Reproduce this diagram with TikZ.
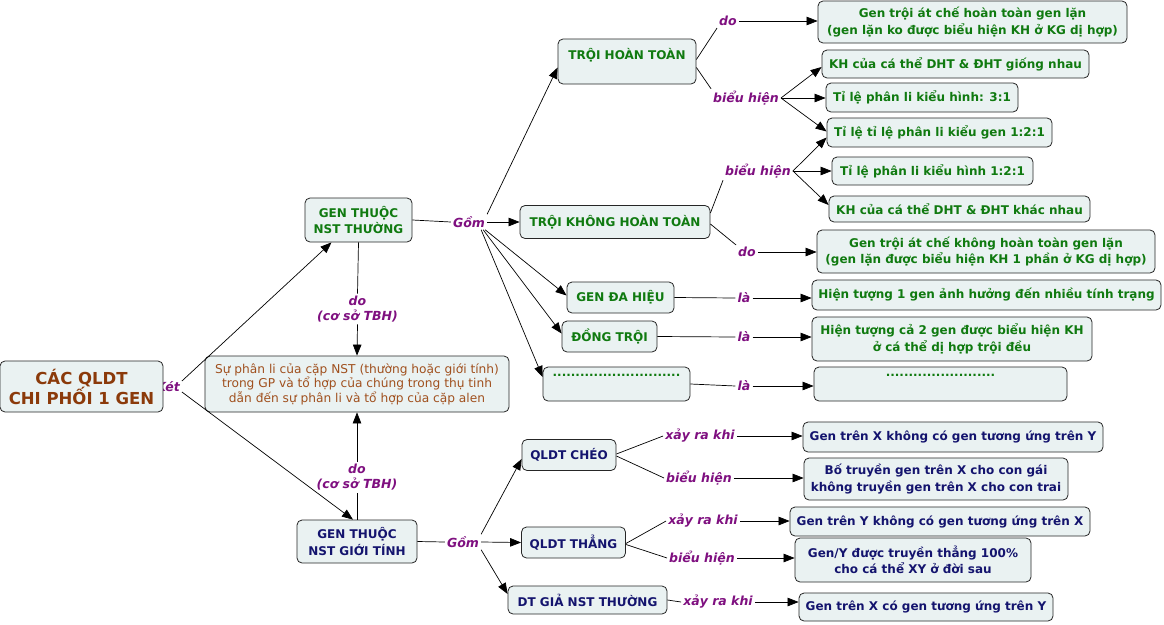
\documentclass[tikz,border=0pt]{standalone}
\usepackage{fontspec}
\setmainfont{DejaVu Sans}
\usetikzlibrary{arrows.meta}
\definecolor{boxfill}{HTML}{EAF2F2}
\definecolor{grn}{HTML}{107A10}
\definecolor{nvy}{HTML}{14146E}
\definecolor{brn}{HTML}{8B3A0A}
\definecolor{brn2}{HTML}{A0501E}
\definecolor{prp}{HTML}{7F1080}
\begin{document}
\begin{tikzpicture}[x=1pt,y=-1pt,
 box/.style={draw=black!85, line width=0.8pt, rounded corners=5pt, fill=boxfill, align=center, inner sep=2pt, font=\bfseries\fontsize{12}{16.5}\selectfont},
 gbox/.style={box, text=grn},
 nbox/.style={box, text=nvy},
 lbl/.style={text=prp, font=\bfseries\itshape\fontsize{12.5}{15}\selectfont, inner sep=2pt, align=center},
 arr/.style={-{Triangle[length=11pt,width=8.5pt]}, line width=0.7pt},
 ln/.style={line width=0.7pt}]
\useasboundingbox (0,0) rectangle (1164,624);
\fill[white] (0,0) rectangle (1164,624);

% left part
\node[lbl] (ket) at (168,387) {Két};
\node[box, text=brn, font=\bfseries\fontsize{16.5}{20}\selectfont, minimum width=163pt, minimum height=51pt] (root) at (81.5,386.5) {CÁC QLDT\\CHI PHỐI 1 GEN};
\node[gbox, minimum width=107pt, minimum height=44pt] (gt) at (358.5,220) {GEN THUỘC\\NST THƯỜNG};
\node[box, font=\fontsize{12.2}{14.5}\selectfont, text=brn2, minimum width=304pt, minimum height=56pt] (mid) at (357,384) {Sự phân li của cặp NST (thường hoặc giới tính)\\trong GP và tổ hợp của chúng trong thụ tinh\\dẫn đến sự phân li và tổ hợp của cặp alen};
\node[nbox, minimum width=120pt, minimum height=43pt] (gs) at (357,541.5) {GEN THUỘC\\NST GIỚI TÍNH};
\node[lbl] (do1) at (357.5,309) {do\\(cơ sở TBH)};
\node[lbl] (do2) at (357,477.5) {do\\(cơ sở TBH)};

\draw[arr] ([yshift=6pt]ket.east) -- ([xshift=-27pt]gt.south);
\draw[arr] ([yshift=-5pt]ket.east) -- ([xshift=-4pt]gs.north);
\draw[ln] (gt.south) -- (do1.north);
\draw[arr] (do1.south) -- (mid.north);
\draw[ln] (gs.north) -- (do2.south);
\draw[arr] (do2.north) -- (mid.south);

% autosomal branch
\node[lbl] (gom1) at (469,222) {Gồm};
\node[gbox, minimum width=138pt, minimum height=45pt, text height=9pt, text depth=13pt] (tht) at (627,61.5) {TRỘI HOÀN TOÀN};
\node[gbox, minimum width=190pt, minimum height=33pt] (tkht) at (615,222) {TRỘI KHÔNG HOÀN TOÀN};
\node[gbox, minimum width=107pt, minimum height=31pt] (gdh) at (620.5,297.5) {GEN ĐA HIỆU};
\node[gbox, minimum width=95pt, minimum height=31pt] (dt) at (609.5,336.5) {ĐỒNG TRỘI};
\node[gbox, minimum width=147pt, minimum height=34pt, text height=4pt, text depth=20pt] (dotb) at (616.5,384) {............................};

\draw[ln] (gt.east) -- (gom1.west);
\draw[arr] (gom1.north east) -- ([yshift=-6pt]tht.west);
\draw[arr] (gom1.east) -- (tkht.west);
\draw[arr] ([xshift=-2pt]gom1.south east) -- ([yshift=2pt]gdh.west);
\draw[arr] ([xshift=-4pt]gom1.south east) -- ([yshift=3pt]dt.west);
\draw[arr] ([xshift=-6pt]gom1.south east) -- ([yshift=7pt]dotb.west);

% TRỘI HOÀN TOÀN
\node[lbl] (doa) at (728,21) {do};
\node[lbl] (bha) at (746,98) {biểu hiện};
\node[gbox, minimum width=309pt, minimum height=42pt] (g1) at (972.5,22) {Gen trội át chế hoàn toàn gen lặn\\(gen lặn ko được biểu hiện KH ở KG dị hợp)};
\node[gbox, minimum width=267pt, minimum height=28pt] (k1) at (955.5,64) {KH của cá thể DHT \& ĐHT giống nhau};
\node[gbox, minimum width=192pt, minimum height=29pt] (t31) at (922,97.5) {Tỉ lệ phân li kiểu hình: 3:1};
\node[gbox, minimum width=225pt, minimum height=29pt] (k121) at (939.5,132.5) {Tỉ lệ tỉ lệ phân li kiểu gen 1:2:1};
\draw[ln] ([yshift=2pt]tht.east) -- (doa.south west);
\draw[ln] ([yshift=-6pt]tht.east) -- (bha.north west);
\draw[arr] (doa.east) -- (doa.east -| g1.west);
\draw[arr] (bha.east) -- ([yshift=-3pt]k1.west);
\draw[arr] (bha.east) -- (bha.east -| t31.west);
\draw[arr] (bha.east) -- ([yshift=1pt]k121.west);

% TRỘI KHÔNG HOÀN TOÀN
\node[lbl] (bhb) at (758,171) {biểu hiện};
\node[lbl] (dob) at (747,252) {do};
\node[gbox, minimum width=201pt, minimum height=28pt] (h121) at (932.5,171) {Tỉ lệ phân li kiểu hình 1:2:1};
\node[gbox, minimum width=261pt, minimum height=26pt] (kkn) at (959.5,209) {KH của cá thể DHT \& ĐHT khác nhau};
\node[gbox, minimum width=338pt, minimum height=43pt] (g2) at (986,251.5) {Gen trội át chế không hoàn toàn gen lặn\\(gen lặn được biểu hiện KH 1 phần ở KG dị hợp)};
\draw[ln] ([yshift=9pt]tkht.east) -- (bhb.south west);
\draw[ln] ([yshift=-2pt]tkht.east) -- (dob.north west);
\draw[arr] (bhb.east) -- ([yshift=-5pt]k121.west);
\draw[arr] (bhb.east) -- (bhb.east -| h121.west);
\draw[arr] (bhb.east) -- ([yshift=4pt]kkn.west);
\draw[arr] (dob.east) -- (dob.east -| g2.west);

% là branches
\node[lbl] (la1) at (744,298) {là};
\node[lbl] (la2) at (744,337) {là};
\node[lbl] (la3) at (744,386) {là};
\node[gbox, minimum width=349pt, minimum height=30pt] (ht1) at (986.5,295) {Hiện tượng 1 gen ảnh hưởng đến nhiều tính trạng};
\node[gbox, minimum width=280pt, minimum height=44pt] (ht2) at (952,339) {Hiện tượng cả 2 gen được biểu hiện KH\\ở cá thể dị hợp trội đều};
\node[gbox, minimum width=253pt, minimum height=34pt, text height=4pt, text depth=20pt] (emp) at (940.5,384) {........................};
\draw[ln] (gdh.east) -- (la1.west);
\draw[arr] (la1.east) -- (la1.east -| ht1.west);
\draw[ln] (dt.east) -- (la2.west);
\draw[arr] (la2.east) -- (la2.east -| ht2.west);
\draw[ln] (dotb.east) -- (la3.west);
\draw[arr] (la3.east) -- (la3.east -| emp.west);

% sex-linked branch
\node[lbl] (gom2) at (463,542) {Gồm};
\node[nbox, minimum width=94pt, minimum height=31pt] (qc) at (569,455) {QLDT CHÉO};
\node[nbox, minimum width=104pt, minimum height=31pt] (qt) at (573.5,542.5) {QLDT THẲNG};
\node[nbox, minimum width=159pt, minimum height=28pt] (dtg) at (587.5,600) {DT GIẢ NST THƯỜNG};
\draw[ln] (gs.east) -- (gom2.west);
\draw[arr] (gom2.north east) -- ([yshift=-4pt]qc.west);
\draw[arr] (gom2.east) -- (qt.west);
\draw[arr] (gom2.south east) -- ([yshift=6pt]dtg.west);

\node[lbl] (xr1) at (700,436) {xảy ra khi};
\node[lbl] (bh3) at (699,478) {biểu hiện};
\node[lbl] (xr2) at (703,521) {xảy ra khi};
\node[lbl] (bh4) at (702,558) {biểu hiện};
\node[lbl] (xr3) at (718,602) {xảy ra khi};
\node[nbox, minimum width=300pt, minimum height=30pt] (e1) at (953,437) {Gen trên X không có gen tương ứng trên Y};
\node[nbox, minimum width=264pt, minimum height=42pt] (e2) at (936,479) {Bố truyền gen trên X cho con gái\\không truyền gen trên X cho con trai};
\node[nbox, minimum width=300pt, minimum height=29pt] (e3) at (940,521.5) {Gen trên Y không có gen tương ứng trên X};
\node[nbox, minimum width=236pt, minimum height=44pt] (e4) at (913,560) {Gen/Y được truyền thẳng 100\%\\cho cá thể XY ở đời sau};
\node[nbox, minimum width=254pt, minimum height=28pt] (e5) at (926,607) {Gen trên X có gen tương ứng trên Y};
\draw[ln] ([yshift=1pt]qc.east) -- (xr1.west);
\draw[ln] ([yshift=-1pt]qc.east) -- (bh3.west);
\draw[ln] ([yshift=-1pt]qt.east) -- (xr2.west);
\draw[ln] ([yshift=-2pt]qt.east) -- (bh4.west);
\draw[ln] (dtg.east) -- (xr3.west);
\draw[arr] (xr1.east) -- (xr1.east -| e1.west);
\draw[arr] (bh3.east) -- (bh3.east -| e2.west);
\draw[arr] (xr2.east) -- (xr2.east -| e3.west);
\draw[arr] (bh4.east) -- (bh4.east -| e4.west);
\draw[arr] (xr3.east) -- (xr3.east -| e5.west);
\end{tikzpicture}
\end{document}
